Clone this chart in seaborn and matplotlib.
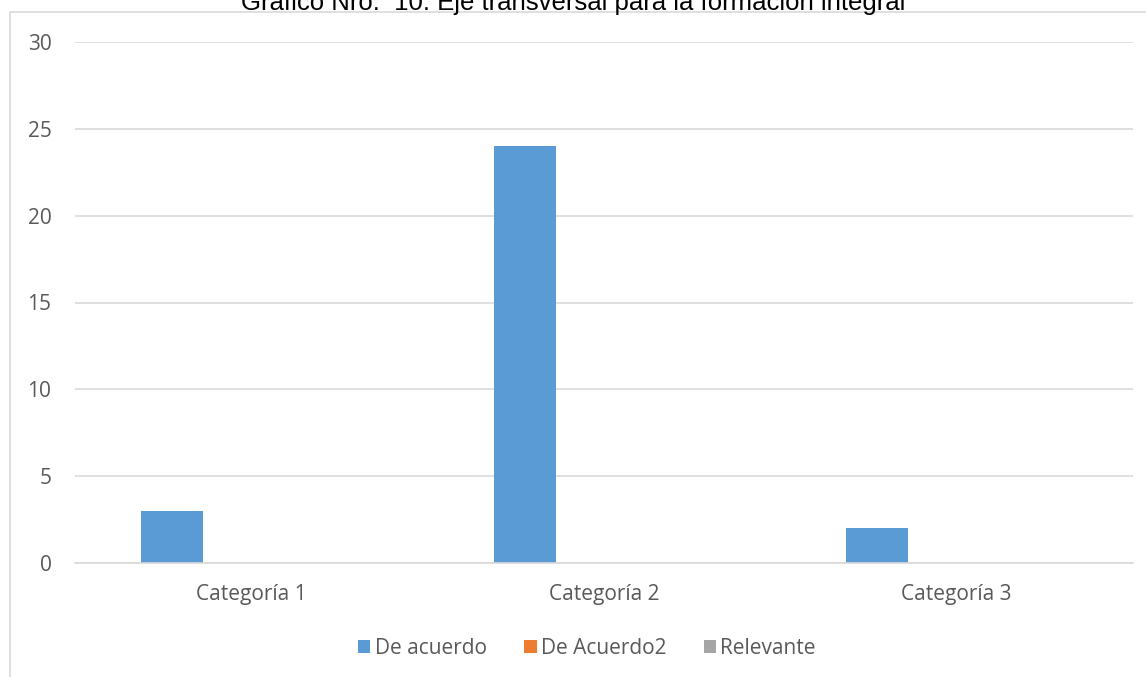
import pandas as pd
import seaborn as sns
import matplotlib.pyplot as plt
from matplotlib.patches import Rectangle

# Chart data
categorias = ["Categoría 1", "Categoría 2", "Categoría 3"]
series = ["De acuerdo", "De Acuerdo2", "Relevante"]
de_acuerdo = [3, 24, 2]
de_acuerdo2 = [0, 0, 0]
relevante = [0, 0, 0]
colores = ["#5B9BD5", "#ED7D31", "#A5A5A5"]
titulo = "Gráfico Nro.  10: Eje transversal para la formación integral"

df = pd.DataFrame({
    "categoria": categorias * 3,
    "serie": [series[0]] * 3 + [series[1]] * 3 + [series[2]] * 3,
    "valor": de_acuerdo + de_acuerdo2 + relevante,
})

sns.set_theme(style="white")
plt.rcParams["font.family"] = ["Open Sans", "DejaVu Sans"]

W, H = 1146, 677
fig = plt.figure(figsize=(W / 100, H / 100), dpi=100)
fig.patch.set_facecolor("white")

# outer chart frame (cut by the image edges)
fig.patches.append(Rectangle((10 / W, -0.1), 1.2, 1 - 12 / H + 0.1,
                             transform=fig.transFigure, fill=False,
                             edgecolor="#D9D9D9", linewidth=1.2))

ax = fig.add_axes([75 / W, 1 - 563 / H, (1133 - 75) / W, (563 - 42) / H])
sns.barplot(data=df, x="categoria", y="valor", hue="serie",
            palette=colores, saturation=1, width=0.676, gap=0.22,
            linewidth=0, ax=ax, legend=True)

fs = 15
ax.set_ylim(0, 30)
ax.set_yticks(range(0, 31, 5))
ax.set_xlim(-0.5, 2.5)
ax.yaxis.grid(True, color="#D9D9D9", linewidth=1.2)
ax.set_axisbelow(True)
for s in ["top", "right", "left"]:
    ax.spines[s].set_visible(False)
ax.spines["bottom"].set_color("#D9D9D9")
ax.spines["bottom"].set_linewidth(1.2)
ax.tick_params(axis="y", length=0, pad=17, labelsize=fs, labelcolor="#595959")
ax.tick_params(axis="x", length=0, pad=15, labelsize=fs, labelcolor="#595959")
ax.set_xlabel("")
ax.set_ylabel("")

handles, labels = ax.get_legend_handles_labels()
ax.legend(handles, labels, loc="center", bbox_to_anchor=(587 / W, 1 - 648 / H),
          bbox_transform=fig.transFigure, ncol=3, frameon=False,
          fontsize=fs, labelcolor="#595959", handlelength=0.6, handleheight=0.6,
          handletextpad=0.2, columnspacing=1.8)

fig.text(0.5, 1 - 10 / H, titulo, ha="center", va="baseline",
         fontsize=18.5, family=["Liberation Sans", "DejaVu Sans"], color="#000000")

fig.savefig("out.png", dpi=100)
